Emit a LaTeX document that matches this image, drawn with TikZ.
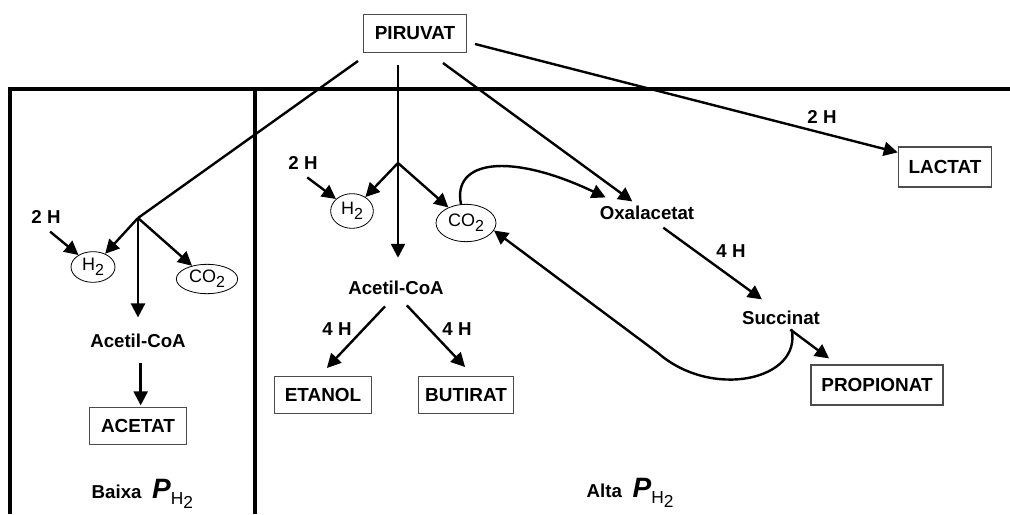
\documentclass[tikz,border=0pt]{standalone}
\usepackage{fontspec}
\setmainfont{Liberation Sans}
\usetikzlibrary{arrows.meta,shapes.geometric}

\newcommand{\lowtwo}{\raisebox{-3.5pt}{\fontsize{12}{12}\selectfont 2}}
\newcommand{\phtwo}{{\fontsize{21}{21}\selectfont\bfseries\itshape P}\raisebox{-5pt}{\fontsize{13}{13}\selectfont\mdseries H\raisebox{-3pt}{2}}}

\begin{document}
\begin{tikzpicture}[
  x=0.75pt, y=-0.75pt,
  box/.style={draw=black!70, line width=0.9pt, font=\fontsize{14.2}{16}\selectfont\bfseries, minimum height=28pt, inner xsep=5pt},
  gas/.style={ellipse, draw, line width=0.6pt, inner sep=1pt, font=\fontsize{13.5}{15}\selectfont},
  lbl/.style={font=\fontsize{14}{16}\selectfont\bfseries},
  arr/.style={-{Triangle[length=10.5pt,width=10.5pt]}, line width=1.8pt},
  flow/.style={line width=1.8pt},
  panel/.style={line width=2.7pt}
]
\fill[white] (0,0) rectangle (1010,514);
\useasboundingbox (0,0) rectangle (1010,514);

% frame
\draw[panel] (10,514) -- (10,89) -- (1010,89);
\draw[panel] (255,89) -- (255,514);

% products
\node[box, minimum width=77pt] (piruvat) at (415,33.5) {PIRUVAT};
\node[box, minimum width=70pt, minimum height=30pt] (lactat) at (945,167) {LACTAT};
\node[box, minimum width=73pt] (acetat) at (138,426) {ACETAT};
\node[box, minimum width=73pt] (etanol) at (323,395) {ETANOL};
\node[box, minimum width=65pt] (butirat) at (466,395) {BUTIRAT};
\node[box, minimum width=99pt, minimum height=30pt] (propion) at (877,385) {PROPIONAT};

% gases
\node[gas, minimum width=33pt, minimum height=23pt] (h2L) at (93,267) {H\lowtwo};
\node[gas, minimum width=46pt, minimum height=22pt] (co2L) at (207,279) {CO\lowtwo};
\node[gas, minimum width=32pt, minimum height=26pt] (h2M) at (352,211) {H\lowtwo};
\node[gas, minimum width=45pt, minimum height=28pt] (co2M) at (466,223) {CO\lowtwo};

% intermediates and labels
\node[lbl] (acoaL) at (138,341) {Acetil-CoA};
\node[lbl] (acoaM) at (396,288) {Acetil-CoA};
\node[lbl] (oxal) at (647,213) {Oxalacetat};
\node[lbl] (succ) at (781,318) {Succinat};
\node[lbl] (twoHL) at (46,217) {2 H};
\node[lbl] (twoHM) at (303,163) {2 H};
\node[lbl] (twoHLac) at (822,117) {2 H};
\node[lbl] (fourHE) at (337,329) {4 H};
\node[lbl] (fourHB) at (457,329) {4 H};
\node[lbl] (fourHS) at (731,251) {4 H};
\node[lbl, anchor=base west] (baixa) at (87,498) {Baixa\hspace{8pt}\phtwo};
\node[lbl, anchor=base west] (alta) at (582,497) {Alta\hspace{8pt}\phtwo};

\coordinate (pvL) at (358,61);
\coordinate (pvM) at (398,65);
\coordinate (pvR) at (443,63);
\coordinate (pvLac) at (475,44);
\coordinate (brL) at (138,218);
\coordinate (brM) at (398,163);

% low pH2
\draw[flow] (pvL) -- (brL);
\draw[arr] (brL) -- (h2L);
\draw[arr] (brL) -- (co2L);
\draw[arr, shorten >=9pt] (brL) -- (acoaL.north);
\draw[arr, shorten <=8pt, shorten >=1pt] ([xshift=2pt]acoaL.south) -- ([xshift=2pt]acetat.north);
\draw[arr, shorten <=4pt] (twoHL.south) -- (h2L);

% high pH2
\draw[flow] (pvM) -- (brM);
\draw[arr, shorten >=14pt] (brM) -- ([xshift=1.5pt]acoaM.north);
\draw[arr] (brM) -- (h2M);
\draw[arr] (brM) -- (co2M);
\draw[arr, shorten <=4pt] (twoHM.south) -- (h2M);
\draw[arr, shorten <=7pt, shorten >=8pt] ([xshift=-3.4pt]acoaM.south) -- ([xshift=-2.6pt]etanol.north);
\draw[arr, shorten <=6pt, shorten >=9pt] ([xshift=4pt]acoaM.south) -- ([xshift=5.5pt]butirat.north);

% propionate route
\draw[arr] (pvR) -- ([xshift=-11pt]oxal.north);
\draw[arr] (co2M.105) .. controls (452,160) and (510,152) .. ([xshift=-31pt,yshift=3pt]oxal.north);
\draw[arr, shorten <=4pt, shorten >=9pt] ([xshift=9pt]oxal.south) -- ([xshift=-7pt]succ.north);
\draw[arr, shorten >=7.5pt] ([xshift=7pt]succ.south) -- ([xshift=20pt]propion.north west);
\draw[arr] ([xshift=8pt]succ.south) .. controls (802,380) and (712,400) .. (658,353) -- (co2M.-15);

% lactate
\draw[arr] (pvLac) -- ([yshift=-4.5pt]lactat.north west);
\end{tikzpicture}
\end{document}
